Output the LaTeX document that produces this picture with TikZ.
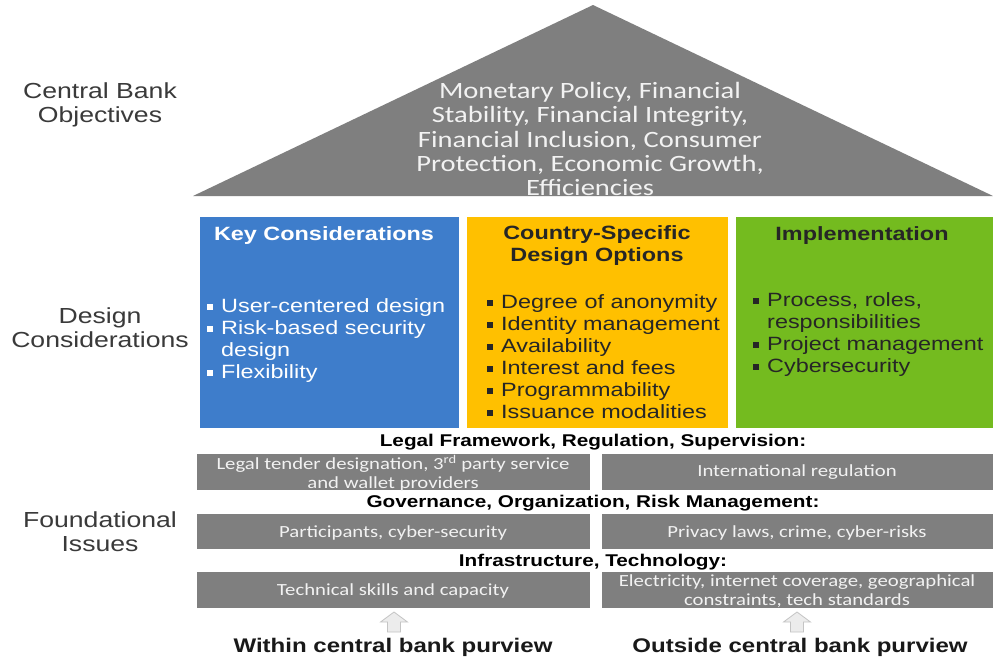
\documentclass[tikz,border=0pt]{standalone}
\usepackage{fontspec}
\setmainfont{Liberation Sans}
\newfontfamily\arsf[FakeStretch=1.22]{Liberation Sans}
\newfontfamily\calf[FakeStretch=1.22]{Carlito}
\definecolor{trigray}{HTML}{7F7F7F}
\definecolor{kblue}{HTML}{3E7DCB}
\definecolor{korange}{HTML}{FFC000}
\definecolor{kgreen}{HTML}{74BB1F}
\definecolor{dtext}{HTML}{262626}
\definecolor{lbltext}{HTML}{3A3A3A}
\definecolor{bartext}{HTML}{F2F2F2}
\definecolor{arrfill}{HTML}{ECECEC}
\definecolor{arrdraw}{HTML}{C4C4C4}
\newcommand{\bul}{\makebox[14pt][l]{\rule[2.5pt]{6pt}{6pt}}}
\newcommand{\bind}{\hspace*{14pt}}
\tikzset{
  sidelabel/.style={align=center, inner sep=0, text=lbltext, font=\arsf\fontsize{21.8}{24}\selectfont},
  colbox/.style={minimum width=259, minimum height=211, inner sep=0, anchor=north west},
  boxtitle/.style={align=center, inner sep=0, font=\arsf\bfseries\fontsize{19.2}{22}\selectfont},
  bullets/.style={align=left, inner sep=0, anchor=west, font=\arsf\fontsize{19.2}{22}\selectfont},
  graybar/.style={fill=trigray, minimum height=36, inner sep=0, anchor=north west},
  bartxt/.style={align=center, inner sep=0, text=bartext, font=\calf\fontsize{17}{18.5}\selectfont},
  rowhead/.style={inner sep=0, text=black, font=\arsf\bfseries\fontsize{17}{19}\selectfont},
  bottomlbl/.style={inner sep=0, text=black!90, font=\arsf\bfseries\fontsize{19.7}{22}\selectfont},
  uparrow/.style={fill=arrfill, draw=arrdraw, line width=0.8pt}
}
\begin{document}
\begin{tikzpicture}[x=1pt,y=-1pt]
\useasboundingbox (0,0) rectangle (993,659);
\fill[white] (0,0) rectangle (993,659);

% roof
\fill[trigray] (593,5) -- (993,196) -- (193,196) -- cycle;
\node[align=center, inner sep=0, text=bartext, font=\calf\fontsize{23.4}{24.2}\selectfont] (obj) at (590,139)
  {Monetary Policy, Financial\\Stability, Financial Integrity,\\Financial Inclusion, Consumer\\Protection, Economic Growth,\\Efficiencies};

% side labels
\node[sidelabel] (lobj) at (100,105) {Central Bank\\Objectives};
\node[sidelabel] (ldes) at (100,328) {Design\\Considerations};
\node[sidelabel] (lfou) at (100,532) {Foundational\\Issues};

% columns
\node[colbox, fill=kblue, minimum width=259] (kc) at (200,217) {};
\node[colbox, fill=korange, minimum width=261] (cs) at (467,217) {};
\node[colbox, fill=kgreen, minimum width=257] (im) at (736,217) {};

\node[boxtitle, text=white] (kct) at (324,236) {Key Considerations};
\node[boxtitle, text=dtext] (cst) at (597,246) {Country-Specific\\Design Options};
\node[boxtitle, text=dtext] (imt) at (862,236) {Implementation};

\node[bullets, text=white] (kcb) at (207,341)
  {\bul User-centered design\\\bul Risk-based security\\\bind design\\\bul Flexibility};
\node[bullets, text=dtext] (csb) at (487,357)
  {\bul Degree of anonymity\\\bul Identity management\\\bul Availability\\\bul Interest and fees\\\bul Programmability\\\bul Issuance modalities};
\node[bullets, text=dtext] (imb) at (753,335)
  {\bul Process, roles,\\\bind responsibilities\\\bul Project management\\\bul Cybersecurity};

% foundational rows
\node[rowhead] (h1) at (593,442) {Legal Framework, Regulation, Supervision:};
\node[graybar, minimum width=393] (b1l) at (197,454) {};
\node[graybar, minimum width=391] (b1r) at (602,454) {};
\node[bartxt] (t1l) at (393,473) {Legal tender designation, 3\textsuperscript{rd} party service\\and wallet providers};
\node[bartxt] (t1r) at (797,472) {International regulation};

\node[rowhead] (h2) at (593,503) {Governance, Organization, Risk Management:};
\node[graybar, minimum width=393, minimum height=35] (b2l) at (197,514) {};
\node[graybar, minimum width=391, minimum height=35] (b2r) at (602,514) {};
\node[bartxt] (t2l) at (393,533) {Participants, cyber-security};
\node[bartxt] (t2r) at (797,533) {Privacy laws, crime, cyber-risks};

\node[rowhead] (h3) at (593,562) {Infrastructure, Technology:};
\node[graybar, minimum width=393] (b3l) at (197,572) {};
\node[graybar, minimum width=391] (b3r) at (602,572) {};
\node[bartxt] (t3l) at (393,591) {Technical skills and capacity};
\node[bartxt] (t3r) at (797,591) {Electricity, internet coverage, geographical\\constraints, tech standards};

% up arrows
\path[uparrow] (394,612) -- (407.5,622) -- (400.5,622) -- (400.5,632) -- (387.5,632) -- (387.5,622) -- (380.5,622) -- cycle;
\path[uparrow] (797,612) -- (810.5,622) -- (803.5,622) -- (803.5,632) -- (790.5,632) -- (790.5,622) -- (783.5,622) -- cycle;

\node[bottomlbl] (win) at (393,647) {Within central bank purview};
\node[bottomlbl] (out) at (800,647) {Outside central bank purview};
\end{tikzpicture}
\end{document}
